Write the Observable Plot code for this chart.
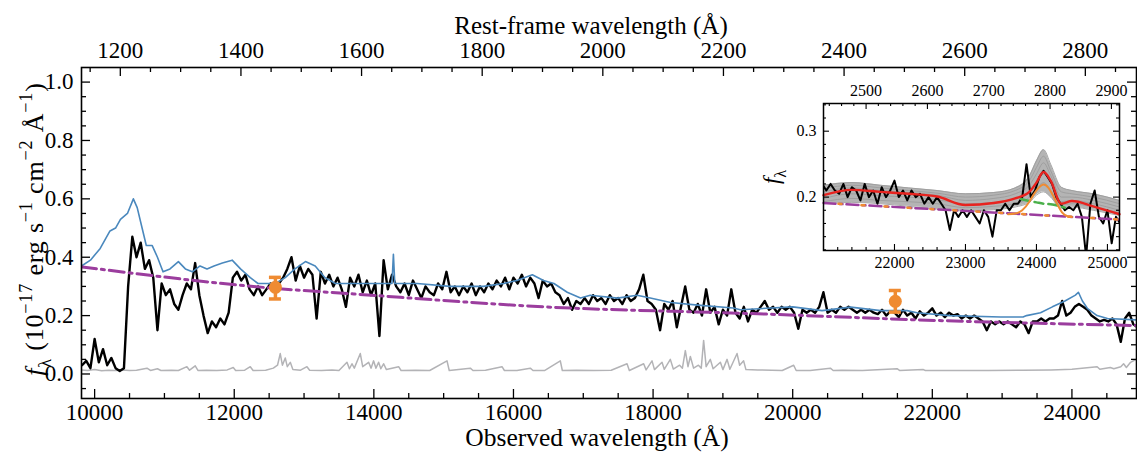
<!DOCTYPE html>
<html><head><meta charset="utf-8">
<script src="https://cdn.jsdelivr.net/npm/d3@7"></script>
<script src="https://cdn.jsdelivr.net/npm/@observablehq/plot@0.6"></script>
<style>
body{margin:0;background:#fff;}
#wrap{position:relative;width:1137px;height:458px;}
#wrap svg{position:absolute;}
#wrap svg text{font-family:"Liberation Serif","Times New Roman","DejaVu Serif",serif !important;}
</style></head><body><div id="wrap"></div>
<script>
// ---------------- data ----------------
const onePlusZ = 8.64;
// observed spectrum, regular grid
const specStart = 9820, specStep = 60;
const specFlux = [
0.03,0.045,0.02,0.12,0.04,0.085,0.03,0.055,0.02,0.01,
0.02,0.30,0.47,0.40,0.45,0.36,0.39,0.33,0.15,0.31,
0.27,0.29,0.24,0.22,0.27,0.31,0.29,0.38,0.27,0.20,
0.14,0.18,0.16,0.19,0.17,0.21,0.33,0.35,0.32,0.34,
0.29,0.27,0.30,0.27,0.29,0.31,0.29,0.31,0.33,0.36,
0.40,0.32,0.37,0.33,0.36,0.34,0.19,0.35,0.31,0.34,
0.30,0.33,0.29,0.23,0.33,0.30,0.34,0.28,0.32,0.27,
0.31,0.13,0.39,0.29,0.34,0.30,0.28,0.31,0.27,0.32,
0.29,0.26,0.30,0.28,0.27,0.31,0.29,0.35,0.28,0.30,
0.27,0.30,0.28,0.31,0.27,0.30,0.28,0.31,0.29,0.32,
0.30,0.33,0.29,0.33,0.31,0.34,0.30,0.33,0.31,0.26,
0.32,0.30,0.31,0.28,0.27,0.24,0.26,0.22,0.25,0.24,
0.26,0.24,0.27,0.25,0.26,0.24,0.27,0.25,0.26,0.24,
0.27,0.25,0.26,0.29,0.34,0.25,0.24,0.22,0.15,0.24,
0.22,0.25,0.16,0.23,0.30,0.22,0.21,0.24,0.20,0.29,
0.21,0.23,0.17,0.22,0.20,0.29,0.21,0.19,0.23,0.18,
0.22,0.21,0.23,0.25,0.22,0.23,0.21,0.23,0.22,0.23,
0.21,0.155,0.22,0.21,0.22,0.21,0.23,0.28,0.21,0.22,
0.21,0.23,0.22,0.23,0.22,0.21,0.22,0.21,0.22,0.21,
0.205,0.22,0.20,0.215,0.21,0.195,0.22,0.20,0.21,0.19,
0.215,0.20,0.21,0.225,0.20,0.21,0.195,0.21,0.20,0.205,
0.19,0.20,0.19,0.20,0.19,0.18,0.15,0.18,0.17,0.18,
0.17,0.18,0.17,0.16,0.18,0.17,0.14,0.18,0.18,0.19,
0.18,0.19,0.19,0.20,0.25,0.20,0.21,0.23,0.24,0.23,
0.22,0.20,0.19,0.18,0.185,0.18,0.19,0.17,0.11,0.19,
0.21,0.17,0.16,0.18,0.13,0.17,0.16];

// best-fit model (blue)
const modelLam = [9812,9940,10080,10150,10220,10300,10370,10470,10555,10610,10680,10740,10825,10900,10980,11080,11200,11300,11400,11510,11610,11710,11830,11970,12090,12230,12340,12440,12590,12730,12870,13020,13160,13300,13450,13660,14000,14260,14280,14300,14620,15090,15570,15860,16050,16270,16430,16580,16770,16960,17100,17490,17770,17960,18250,18680,19150,19250,20000,20420,20830,21260,21640,21780,22250,22980,23300,23350,23550,23720,23900,24050,24093,24150,24220,24360,24510,24940];
const modelFlux = [0.37,0.39,0.43,0.46,0.49,0.50,0.53,0.55,0.60,0.57,0.50,0.44,0.44,0.40,0.35,0.36,0.385,0.36,0.35,0.37,0.36,0.37,0.38,0.39,0.36,0.33,0.31,0.31,0.31,0.33,0.36,0.385,0.37,0.33,0.31,0.31,0.31,0.31,0.41,0.31,0.31,0.30,0.30,0.31,0.32,0.34,0.32,0.31,0.28,0.26,0.27,0.26,0.27,0.26,0.245,0.235,0.226,0.22,0.23,0.217,0.229,0.217,0.217,0.21,0.20,0.195,0.195,0.20,0.21,0.23,0.25,0.27,0.28,0.25,0.225,0.20,0.19,0.185];

// error spectrum (grey)
const errLam = [9812,9900,10000,10100,10200,10300,10400,10500,10600,10750,10800,10900,10950,11100,11200,11322,11360,11441,11480,11600,11750,11900,11986,12020,12150,12230,12270,12450,12560,12620,12659,12690,12731,12760,12803,12840,12950,13042,13080,13250,13400,13500,13615,13650,13687,13720,13806,13840,13925,13960,13996,14030,14068,14100,14140,14180,14355,14390,14600,14800,15048,15080,15382,15420,15600,15836,15870,16050,16241,16280,16450,16671,16700,16900,17150,17400,17627,17660,17865,17900,17985,18020,18128,18160,18247,18290,18380,18420,18462,18500,18534,18580,18650,18690,18724,18760,18820,18860,18964,19000,19060,19100,19203,19240,19297,19330,19500,19700,19850,20014,20050,20250,20540,20580,20700,21000,21495,21530,21872,21900,22300,22800,23300,23700,24000,24361,24400,24550,24600,24700,24740,24780,24840,24880,24925];
const errFlux = [0.014,0.012,0.015,0.011,0.013,0.012,0.014,0.012,0.013,0.02,0.012,0.018,0.012,0.013,0.012,0.025,0.013,0.028,0.012,0.013,0.012,0.014,0.022,0.012,0.013,0.025,0.012,0.013,0.02,0.03,0.07,0.03,0.055,0.025,0.04,0.015,0.013,0.025,0.013,0.012,0.014,0.012,0.04,0.018,0.035,0.02,0.07,0.025,0.04,0.02,0.045,0.02,0.04,0.018,0.035,0.015,0.025,0.012,0.013,0.012,0.045,0.012,0.02,0.012,0.013,0.025,0.012,0.012,0.02,0.012,0.012,0.045,0.012,0.013,0.012,0.013,0.035,0.012,0.035,0.014,0.045,0.015,0.04,0.016,0.05,0.017,0.03,0.02,0.08,0.025,0.06,0.02,0.03,0.02,0.115,0.025,0.05,0.018,0.04,0.015,0.05,0.016,0.07,0.03,0.045,0.015,0.014,0.013,0.012,0.03,0.012,0.012,0.02,0.012,0.013,0.012,0.018,0.012,0.015,0.012,0.012,0.012,0.013,0.014,0.016,0.025,0.016,0.022,0.018,0.025,0.035,0.022,0.04,0.045,0.05];

// power-law continuum (purple)
const contLam = [9812,12600,13660,16530,19400,22100,24925];
const contFlux = [0.367,0.293,0.275,0.229,0.207,0.183,0.166];

// photometry (orange)
const photLam = [12590,21470];
const photFlux = [0.297,0.249];
const photLo = [0.257,0.212];
const photHi = [0.331,0.286];

// inset model curves
const insetLam = [21000,21400,21800,22200,22600,23000,23400,23700,23900,24000,24100,24200,24350,24500,24800,25170];
const insetRed = [0.203,0.211,0.208,0.205,0.201,0.188,0.191,0.198,0.208,0.222,0.238,0.225,0.190,0.194,0.186,0.174];
const insetGray1 = [0.218,0.222,0.218,0.214,0.210,0.205,0.207,0.214,0.232,0.255,0.272,0.250,0.215,0.210,0.205,0.195];
const insetGray2 = [0.213,0.218,0.214,0.210,0.206,0.200,0.203,0.210,0.225,0.245,0.262,0.240,0.208,0.205,0.200,0.190];
const insetGray3 = [0.208,0.214,0.210,0.207,0.203,0.195,0.198,0.205,0.218,0.235,0.252,0.233,0.200,0.200,0.195,0.185];
const insetGray4 = [0.198,0.205,0.202,0.200,0.196,0.190,0.192,0.198,0.208,0.222,0.235,0.222,0.193,0.195,0.190,0.180];
const insetGray5 = [0.193,0.198,0.195,0.193,0.190,0.184,0.186,0.190,0.200,0.213,0.222,0.210,0.188,0.190,0.185,0.176];
const insetGray6 = [0.190,0.192,0.190,0.186,0.182,0.179,0.181,0.185,0.192,0.203,0.208,0.200,0.183,0.185,0.180,0.172];
const lineLam = [23600,23700,23800,23900,23960,24030,24100,24170,24230,24300,24360,24440,24500];
const lineFlux = [0.174,0.175,0.180,0.193,0.204,0.214,0.219,0.214,0.203,0.188,0.177,0.171,0.170];
const broadLam = [23780,23900,24000,24100,24200,24300,24400];
const broadFlux = [0.197,0.194,0.192,0.190,0.189,0.187,0.184];
const insetContLam = [21000,25170];
const insetContFlux = [0.191,0.166];

// tick values
const xMajor = [10000,12000,14000,16000,18000,20000,22000,24000];
const restMajor = [1200,1400,1600,1800,2000,2200,2400,2600,2800];
const yMajor = [0,0.2,0.4,0.6,0.8,1.0];
const insetXMajor = [22000,23000,24000,25000];
const insetRestMajor = [2500,2600,2700,2800,2900];
const insetYMajor = [0.2,0.3];

const TOP_TITLE = "Rest-frame wavelength (Å)";
const BOTTOM_TITLE = "Observed wavelength (Å)";
const YLABEL = "fλ (10−17 erg s−1 cm−2 Å−1)";
const YLABEL_PARTS = [["f","it"],["λ","sub"],[" (10",""],["−17","sup"],[" erg s",""],["−1","sup"],[" cm",""],["−2","sup"],[" Å",""],["−1","sup"],[")",""]];
const INSET_YLABEL = "fλ";
const INSET_YLABEL_PARTS = [["f","it"],["λ","sub"]];

// ---------------- helpers ----------------
const zip = (xs, ys) => xs.map((x, i) => ({lam: x, flux: ys[i]}));
const spec = specFlux.map((f, i) => ({lam: specStart + i*specStep, flux: f}));
const model = zip(modelLam, modelFlux);
const err = zip(errLam, errFlux);
const cont = zip(contLam, contFlux);
const phot = photLam.map((l, i) => ({lam: l, flux: photFlux[i], lo: photLo[i], hi: photHi[i]}));
const FONT = "'Liberation Serif', 'Times New Roman', 'DejaVu Serif', serif";
const ORANGE = "#ef8b32", PURPLE = "#9b3d9e", BLUE = "#4a88bd";

function steps(a, b, s) { const out = []; for (let v = a; v <= b + 1e-9; v += s) out.push(+v.toFixed(6)); return out; }
function minorOf(vals, majors) { return vals.filter(v => !majors.some(m => Math.abs(m - v) < 1e-6)); }

function tickMarks(xDom, yDom, kx, ky, bottomMaj, bottomMin, topMaj, topMin, yMaj, yMin, L, l, sw) {
  const inX = v => v > xDom[0] && v < xDom[1];
  const inY = v => v > yDom[0] && v < yDom[1];
  const o = {stroke: "black", strokeWidth: sw};
  const m = [];
  for (const [vals, len] of [[bottomMaj, L], [bottomMin, l]])
    m.push(Plot.ruleX(vals.filter(inX), {x: d => d, y1: yDom[0], y2: yDom[0] + len*ky, ...o}));
  for (const [vals, len] of [[topMaj, L], [topMin, l]])
    m.push(Plot.ruleX(vals.filter(inX), {x: d => d, y1: yDom[1], y2: yDom[1] - len*ky, ...o}));
  for (const [vals, len] of [[yMaj, L], [yMin, l]]) {
    m.push(Plot.ruleY(vals.filter(inY), {y: d => d, x1: xDom[0], x2: xDom[0] + len*kx, ...o}));
    m.push(Plot.ruleY(vals.filter(inY), {y: d => d, x1: xDom[1], x2: xDom[1] - len*kx, ...o}));
  }
  return m;
}

function richLabel(svg, plain, parts, base, spacing) {
  const ns = "http://www.w3.org/2000/svg";
  for (const t of svg.querySelectorAll("text")) {
    if (t.textContent !== plain) continue;
    t.textContent = "";
    if (spacing) t.setAttribute("letter-spacing", spacing);
    let shift = 0;
    for (const [s, k] of parts) {
      const ts = document.createElementNS(ns, "tspan");
      ts.textContent = s;
      const target = k === "sup" ? -0.42*base : k === "sub" ? 0.3*base : 0;
      const dy = target - shift; shift = target;
      if (dy) ts.setAttribute("dy", dy.toFixed(2));
      if (k === "sup" || k === "sub") ts.setAttribute("font-size", (0.7*base).toFixed(1));
      if (k === "it") ts.setAttribute("font-style", "italic");
      t.appendChild(ts);
    }
  }
}

// ---------------- main plot ----------------
const W = 1137, H = 458, mL = 81, mR = 1, mT = 67, mB = 60;
const xDom = [9812, 24925], yDom = [-0.084, 1.05];
const kx = (xDom[1]-xDom[0])/(W-mL-mR), ky = (yDom[1]-yDom[0])/(H-mT-mB);

const xMinor = minorOf(steps(9500, 25000, 500), xMajor);
const topMajObs = restMajor.map(r => r*onePlusZ);
const topMinObs = minorOf(steps(1100, 2900, 50), restMajor).map(r => r*onePlusZ);
const yMinor = minorOf(steps(-0.05, 1.05, 0.05), yMajor);

const main = Plot.plot({
  width: W, height: H, marginLeft: mL, marginRight: mR, marginTop: mT, marginBottom: mB,
  style: {fontFamily: FONT, background: "white", color: "black", overflow: "visible"},
  x: {domain: xDom, label: null},
  y: {domain: yDom, label: null},
  marks: [
    Plot.line(err, {x: "lam", y: "flux", stroke: "#b3b3b6", strokeWidth: 1.5, clip: true}),
    Plot.line(spec, {x: "lam", y: "flux", stroke: "black", strokeWidth: 2.4, clip: true}),
    Plot.line(model, {x: "lam", y: "flux", stroke: BLUE, strokeWidth: 1.6, clip: true}),
    Plot.line(cont, {x: "lam", y: "flux", stroke: PURPLE, strokeWidth: 3, strokeDasharray: "15,5,3,5", curve: "monotone-x", clip: true}),
    Plot.ruleX(phot, {x: "lam", y1: "lo", y2: "hi", stroke: ORANGE, strokeWidth: 3.5}),
    Plot.ruleY(phot, {y: "lo", x1: d => d.lam - 6*kx, x2: d => d.lam + 6*kx, stroke: ORANGE, strokeWidth: 3.5}),
    Plot.ruleY(phot, {y: "hi", x1: d => d.lam - 6*kx, x2: d => d.lam + 6*kx, stroke: ORANGE, strokeWidth: 3.5}),
    Plot.dot(phot, {x: "lam", y: "flux", r: 6.5, fill: ORANGE}),
    ...tickMarks(xDom, yDom, kx, ky, xMajor, xMinor, topMajObs, topMinObs, yMajor, yMinor, 9, 5, 1.3),
    Plot.frame({stroke: "black", strokeWidth: 1.6}),
    Plot.axisX({anchor: "bottom", ticks: xMajor, tickSize: 0, tickPadding: 5, fontSize: 23, tickFormat: d => String(d), label: null}),
    Plot.axisX({anchor: "top", ticks: topMajObs, tickSize: 0, tickPadding: 10, fontSize: 23, tickFormat: d => String(Math.round(d/onePlusZ)), label: null}),
    Plot.axisY({anchor: "left", ticks: yMajor, tickSize: 0, tickPadding: 8, fontSize: 23, tickFormat: d => d.toFixed(1), label: null}),
    Plot.text([TOP_TITLE], {text: d => d, frameAnchor: "top", dy: -51, dx: -18, fontSize: 25}),
    Plot.text([BOTTOM_TITLE], {text: d => d, frameAnchor: "bottom", dy: 47, dx: -12, fontSize: 25.5}),
    Plot.text([YLABEL], {text: d => d, frameAnchor: "left", textAnchor: "middle", dx: -47, dy: -4, rotate: -90, fontSize: 26})
  ]
});
main.style.left = "0px"; main.style.top = "0px";
richLabel(main, YLABEL, YLABEL_PARTS, 26, 0.8);
document.getElementById("wrap").appendChild(main);

// ---------------- inset ----------------
const iW = 395, iH = 210, imL = 83, imR = 16, imT = 33, imB = 30;
const ixDom = [21000, 25170], iyDom = [0.119, 0.342];
const ikx = (ixDom[1]-ixDom[0])/(iW-imL-imR), iky = (iyDom[1]-iyDom[0])/(iH-imT-imB);
const ixMinor = minorOf(steps(21000, 25200, 200), insetXMajor);
const iTopMaj = insetRestMajor.map(r => r*onePlusZ);
const iTopMin = minorOf(steps(2420, 2920, 20), insetRestMajor).map(r => r*onePlusZ);
const iyMinor = minorOf(steps(0.12, 0.34, 0.02), insetYMajor);
const grays = [insetGray1, insetGray2, insetGray3, insetGray4, insetGray5, insetGray6].map(g => zip(insetLam, g));
const band = insetLam.map((l, i) => ({lam: l, lo: insetGray6[i], hi: insetGray1[i]}));

const inset = Plot.plot({
  width: iW, height: iH, marginLeft: imL, marginRight: imR, marginTop: imT, marginBottom: imB,
  style: {fontFamily: FONT, background: "transparent", color: "black", overflow: "visible"},
  x: {domain: ixDom, label: null},
  y: {domain: iyDom, label: null},
  marks: [
    Plot.frame({fill: "white", stroke: null}),
    Plot.areaY(band, {x: "lam", y1: "lo", y2: "hi", fill: "#b4b4b4", curve: "monotone-x"}),
    ...grays.map(g => Plot.line(g, {x: "lam", y: "flux", stroke: "#9c9c9c", strokeWidth: 0.9, curve: "monotone-x"})),
    Plot.line(spec, {x: "lam", y: "flux", stroke: "black", strokeWidth: 2, clip: true}),
    Plot.line(zip(insetContLam, insetContFlux), {x: "lam", y: "flux", stroke: PURPLE, strokeWidth: 2.5, strokeDasharray: "12,4,3,4"}),
    Plot.line(zip(insetContLam, insetContFlux), {x: "lam", y: "flux", stroke: ORANGE, strokeWidth: 2.5, strokeDasharray: "3,20", strokeDashoffset: -15}),
    Plot.line(zip(broadLam, broadFlux), {x: "lam", y: "flux", stroke: "#4bb04b", strokeWidth: 2.5, strokeDasharray: "9,5", curve: "monotone-x"}),
    Plot.line(zip(lineLam, lineFlux), {x: "lam", y: "flux", stroke: ORANGE, strokeWidth: 2, curve: "monotone-x"}),
    Plot.line(zip(insetLam, insetRed), {x: "lam", y: "flux", stroke: "#e8231f", strokeWidth: 2.4, curve: "monotone-x"}),
    ...tickMarks(ixDom, iyDom, ikx, iky, insetXMajor, ixMinor, iTopMaj, iTopMin, insetYMajor, iyMinor, 6, 3, 1.1),
    Plot.frame({stroke: "black", strokeWidth: 1.5}),
    Plot.axisX({anchor: "bottom", ticks: insetXMajor, tickSize: 0, tickPadding: 6, fontSize: 16, tickFormat: d => String(d), label: null}),
    Plot.axisX({anchor: "top", ticks: iTopMaj, tickSize: 0, tickPadding: 8, fontSize: 16, tickFormat: d => String(Math.round(d/onePlusZ)), label: null}),
    Plot.axisY({anchor: "left", ticks: insetYMajor, tickSize: 0, tickPadding: 7, fontSize: 16, tickFormat: d => d.toFixed(1), label: null}),
    Plot.text([INSET_YLABEL], {text: d => d, frameAnchor: "left", textAnchor: "middle", dx: -52, rotate: -90, fontSize: 23})
  ]
});
inset.style.left = "740px"; inset.style.top = "70px";
richLabel(inset, INSET_YLABEL, INSET_YLABEL_PARTS, 23);
document.getElementById("wrap").appendChild(inset);
</script></body></html>
